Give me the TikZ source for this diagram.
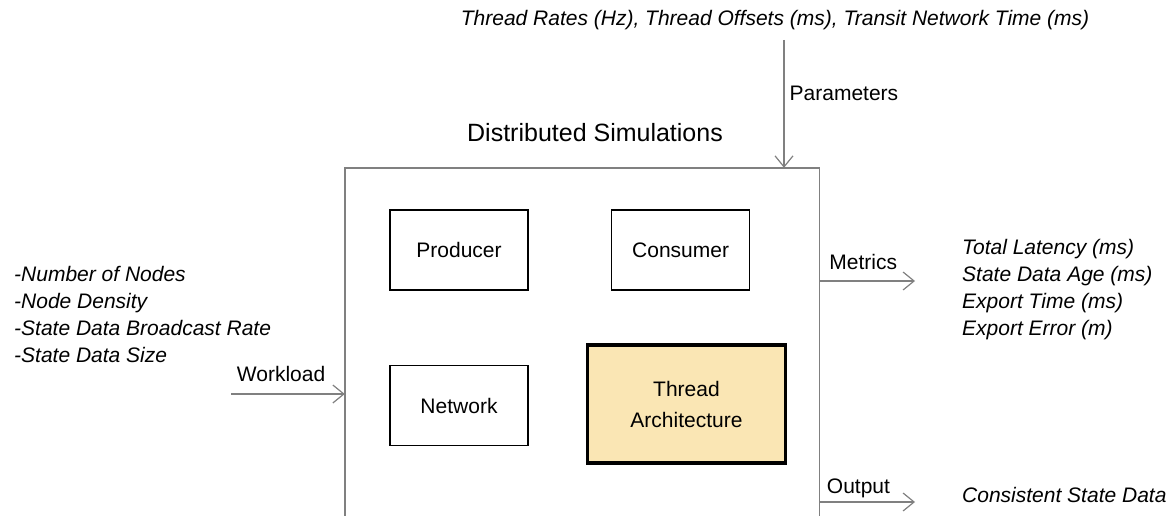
\documentclass[tikz,border=0pt]{standalone}
\usepackage{fontspec}
\setmainfont{Liberation Sans}
\usepackage{xcolor}
\usetikzlibrary{arrows.meta, positioning}
\definecolor{simgray}{HTML}{808080}
\definecolor{threadfill}{HTML}{FAE6B4}

\begin{document}
\begin{tikzpicture}[x=1pt, y=-1pt,
      font=\fontsize{21}{27}\selectfont,
      block/.style={draw=black, line width=1.6pt, minimum width=138pt,
        minimum height=80pt, inner sep=0pt},
      thread/.style={block, line width=3.4pt, fill=threadfill,
        minimum width=198pt, minimum height=118pt, align=center,
        font=\fontsize{21}{31}\selectfont},
      flow/.style={draw=simgray, line width=1.4pt,
        -{Straight Barb[length=11pt, width=18pt, line width=1.2pt]}},
      lbl/.style={inner sep=2pt},
      list/.style={align=left, anchor=north west, inner sep=0pt,
        font=\itshape\fontsize{21}{27}\selectfont}]
      \useasboundingbox (0,0) rectangle (1172,516);
      % outer simulation frame, open at the bottom
      \node[minimum width=474pt, minimum height=348pt, inner sep=0pt] (sim) at (582,342) {};
      \draw[simgray, line width=1.4pt] (sim.south west) |- (sim.north east) -- (sim.south east);
      \node[font=\fontsize{25}{30}\selectfont] (title) at (595,133) {Distributed Simulations};
      % components
      \node[block] (producer) at (459,250) {Producer};
      \node[block, right=82pt of producer] (consumer) {Consumer};
      \node[block, below=74pt of producer] (network) {Network};
      \node[thread, right=57pt of network, yshift=1.5pt] (thread) {Thread\\Architecture};
      % parameters
      \node[font=\itshape\fontsize{21}{27}\selectfont] (rates) at (775,20)
        {Thread Rates (Hz), Thread Offsets (ms), Transit Network Time (ms)};
      \coordinate (parin) at (784,40);
      \draw[flow] (parin) -- (parin |- sim.north) node[lbl, pos=0.42, right=3pt] {Parameters};
      % workload
      \node[list] (worklist) at (14,266) {-Number of Nodes\\-Node Density\\-State Data Broadcast Rate\\-State Data Size};
      \coordinate (workin) at (231,394);
      \draw[flow] (workin) -- (workin -| sim.west) node[lbl, pos=0.44, above=9.5pt] {Workload};
      % metrics
      \node[list] (metlist) at (962,239) {Total Latency (ms)\\State Data Age (ms)\\Export Time (ms)\\Export Error (m)};
      \coordinate (metout) at (915,281);
      \draw[flow] (metout -| sim.east) -- (metout) node[lbl, pos=0.46, above=8.5pt] {Metrics};
      % output
      \node[inner sep=0pt, anchor=west, font=\itshape\fontsize{21}{27}\selectfont] (outtext) at (962,495) {Consistent State Data};
      \coordinate (outout) at (915,502);
      \draw[flow] (outout -| sim.east) -- (outout) node[lbl, pos=0.41, above=1pt] {Output};
    \end{tikzpicture}
\end{document}
